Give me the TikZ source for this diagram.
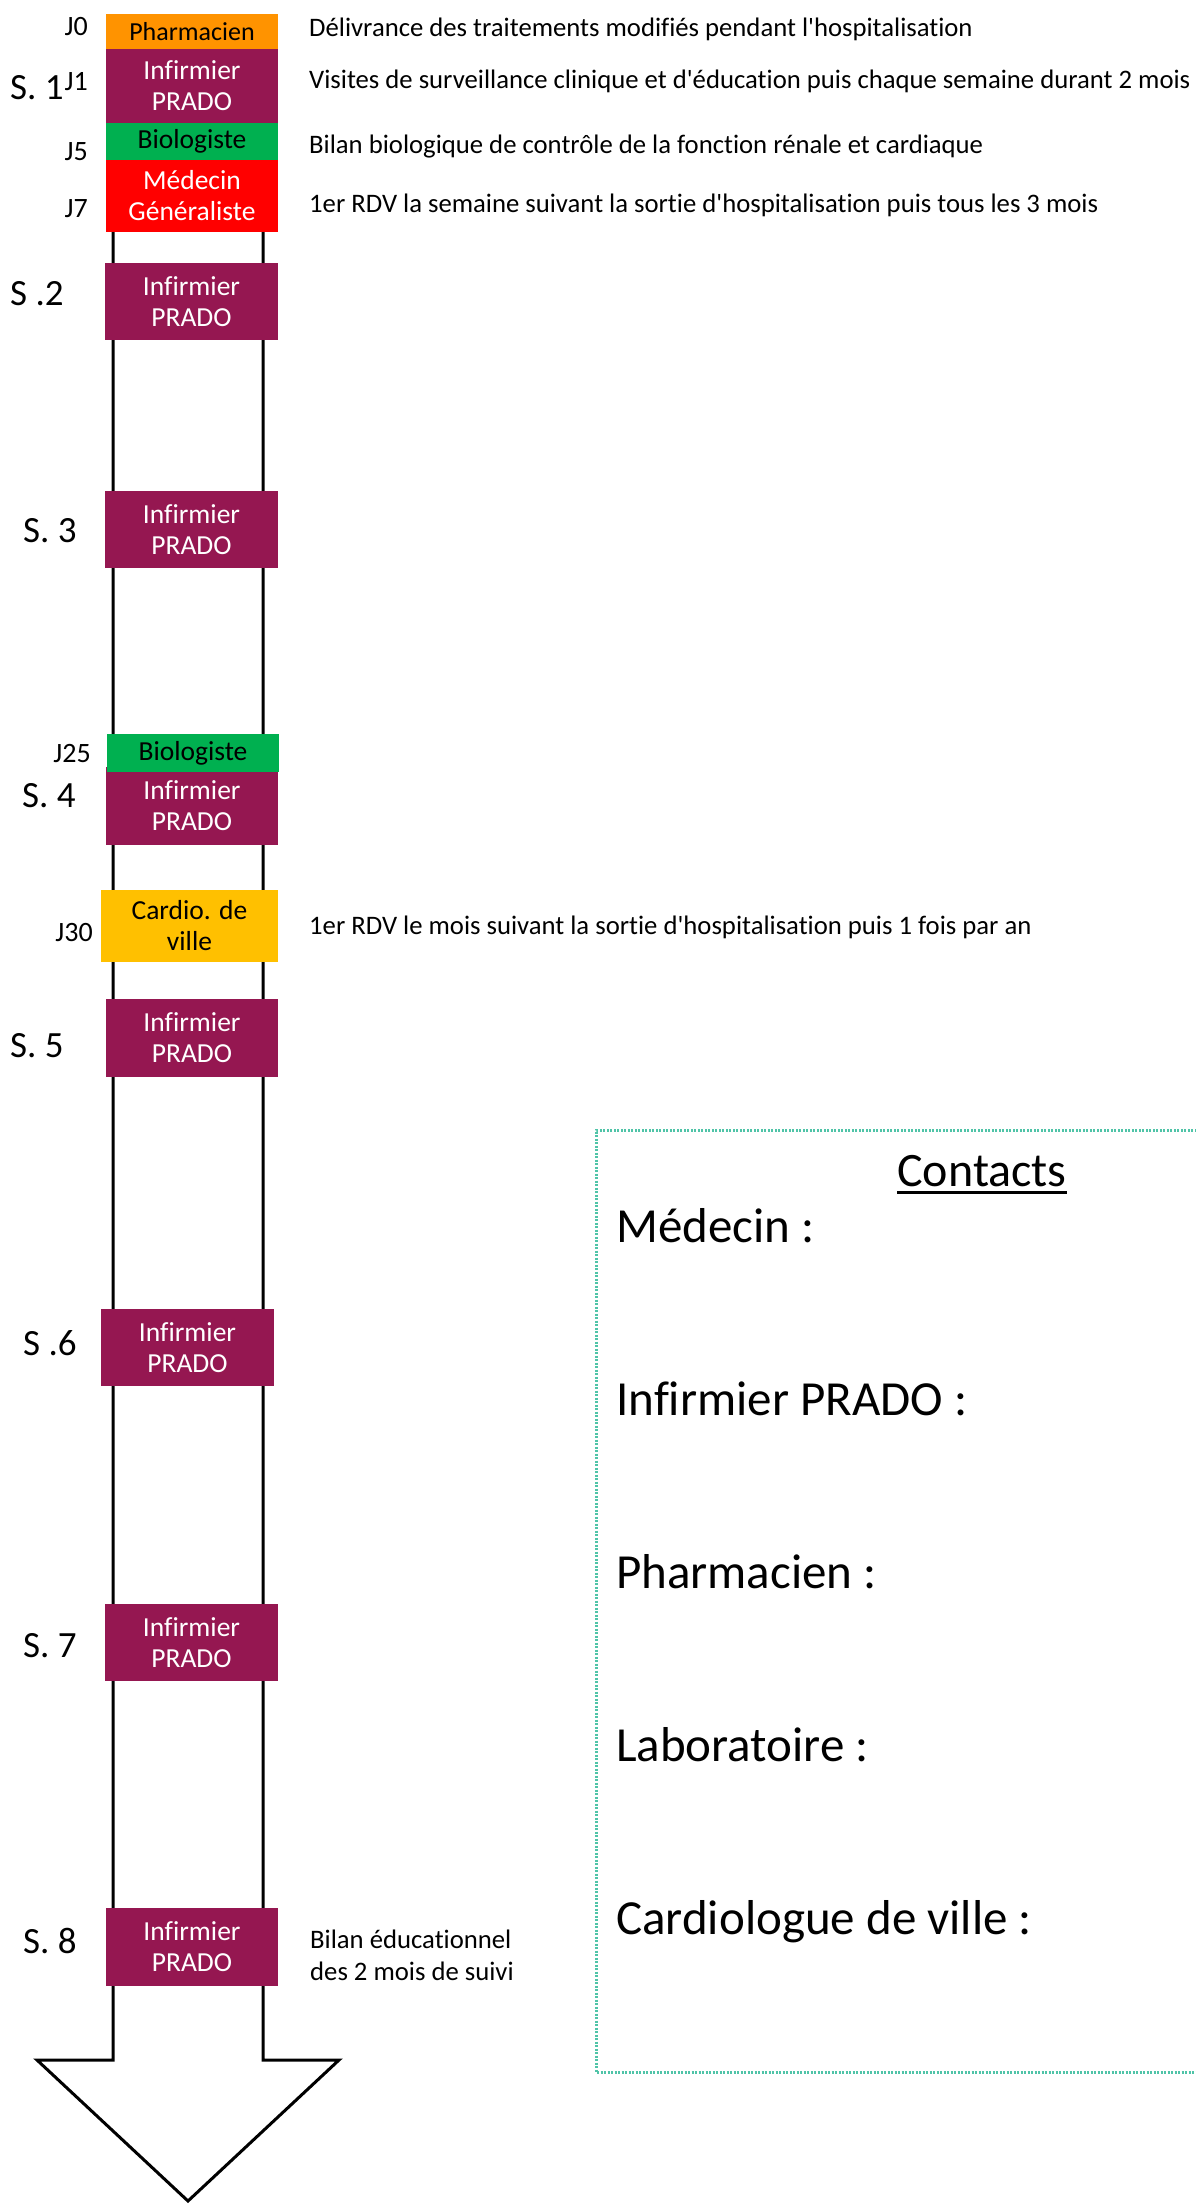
\documentclass[tikz,border=0pt]{standalone}
\usepackage{fontspec}
\setmainfont{Carlito}[Ligatures={TeXOff,NoCommon}]
\usetikzlibrary{calc}
\definecolor{pradoc}{RGB}{149,23,81}
\definecolor{orangec}{RGB}{255,147,0}
\definecolor{greenc}{RGB}{0,176,80}
\definecolor{redc}{RGB}{255,0,0}
\definecolor{amberc}{RGB}{255,192,0}
\definecolor{tealc}{RGB}{80,196,168}
\begin{document}
\begin{tikzpicture}[x=1pt,y=-1pt,
  box/.style={inner sep=0pt, align=center, font=\fontsize{27.5}{31}\selectfont},
  pradobox/.style={box, fill=pradoc, text=white, minimum width=172pt, minimum height=77pt},
  jlab/.style={inner sep=0pt, anchor=base east, font=\fontsize{28}{30}\selectfont},
  slab/.style={inner sep=0pt, anchor=base west, font=\fontsize{37}{40}\selectfont},
  desc/.style={inner sep=0pt, anchor=base west, font=\fontsize{26.7}{32}\selectfont},
  contact/.style={inner sep=0pt, anchor=base west, font=\fontsize{49}{56}\selectfont}]
\useasboundingbox (0,0) rectangle (1195,2204);
\fill[white] (0,0) rectangle (1195,2204);
% arrow
\draw[line width=3pt, fill=white, line join=miter] (113,20) -- (113,2060) -- (37,2060) -- (188,2201) -- (339,2060) -- (263,2060) -- (263,20);
% boxes
\node[box, fill=orangec, minimum width=172pt, minimum height=35pt, font=\fontsize{26}{30}\selectfont] (pharm) at (192,31.5) {Pharmacien};
\node[pradobox, minimum height=74pt] (inf1) at (192,86) {Infirmier\\PRADO};
\node[box, fill=greenc, minimum width=172pt, minimum height=37pt] (bio1) at (192,141.5) {Biologiste};
\node[box, fill=redc, text=white, minimum width=172pt, minimum height=72pt] (med) at (192,196) {Médecin\\Généraliste};
\node[pradobox, minimum width=173pt] (inf2) at (191.5,301.5) {Infirmier\\PRADO};
\node[pradobox, minimum width=173pt] (inf3) at (191.5,529.5) {Infirmier\\PRADO};
\node[pradobox, minimum height=78pt] (inf4) at (192,806) {Infirmier\\PRADO};
\node[box, fill=greenc, minimum width=172pt, minimum height=38pt] (bio2) at (193,753) {Biologiste};
\node[box, fill=amberc, minimum width=177pt, minimum height=72pt] (cardio) at (189.5,926) {Cardio. de\\ville};
\node[pradobox, minimum height=78pt] (inf5) at (192,1038) {Infirmier\\PRADO};
\node[pradobox, minimum width=173pt] (inf6) at (187.5,1347.5) {Infirmier\\PRADO};
\node[pradobox, minimum width=173pt] (inf7) at (191.5,1642.5) {Infirmier\\PRADO};
\node[pradobox, minimum height=78pt] (inf8) at (192,1947) {Infirmier\\PRADO};
% day labels
\node[jlab] (j0) at (88,35) {J0};
\node[jlab] (j1) at (88,90) {J1};
\node[jlab] (j5) at (88,160) {J5};
\node[jlab] (j7) at (88,217) {J7};
\node[jlab] (j25) at (91,762) {J25};
\node[jlab] (j30) at (93,941) {J30};
% week labels
\node[slab] (s1) at (10,99) {S. 1};
\node[slab] (s2) at (10,305) {S .2};
\node[slab] (s3) at (23,542) {S. 3};
\node[slab] (s4) at (22,807) {S. 4};
\node[slab] (s5) at (10,1057) {S. 5};
\node[slab] (s6) at (23,1355) {S .6};
\node[slab] (s7) at (23,1657) {S. 7};
\node[slab] (s8) at (23,1953) {S. 8};
% descriptions
\node[desc] (d0) at (309,36) {Délivrance des traitements modifiés pendant l'hospitalisation};
\node[desc] (d1) at (309,88) {Visites de surveillance clinique et d'éducation puis chaque semaine durant 2 mois};
\node[desc] (d5) at (309,153) {Bilan biologique de contrôle de la fonction rénale et cardiaque};
\node[desc] (d7) at (309,212) {1er RDV la semaine suivant la sortie d'hospitalisation puis tous les 3 mois};
\node[desc] (d30) at (309,934) {1er RDV le mois suivant la sortie d'hospitalisation puis 1 fois par an};
\node[desc, anchor=north west, align=left] (d8) at (310,1930) {Bilan éducationnel\\des 2 mois de suivi};
% contacts frame
\draw[tealc, line width=3pt, dash pattern=on 2pt off 1.5pt] (1200,1130) -- (596,1130) -- (596,2072) -- (1200,2072);
\node[contact, anchor=base, font=\fontsize{48}{56}\selectfont] (ctitle) at (982,1186) {Contacts};
\draw[line width=3pt] ($(ctitle.base west)+(0,6)$) -- ($(ctitle.base east)+(0,6)$);
\node[contact] (c1) at (616,1242) {Médecin :};
\node[contact] (c2) at (616,1415) {Infirmier PRADO :};
\node[contact] (c3) at (616,1588) {Pharmacien :};
\node[contact] (c4) at (616,1761) {Laboratoire :};
\node[contact] (c5) at (616,1934) {Cardiologue de ville :};
\end{tikzpicture}
\end{document}
